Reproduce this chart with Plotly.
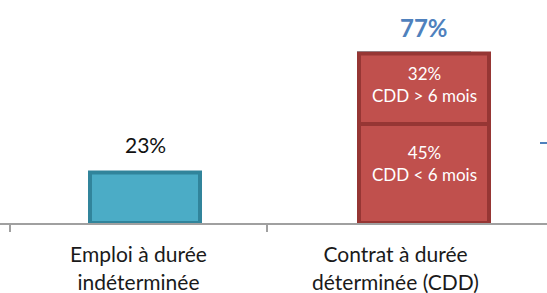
import plotly.graph_objects as go

categories = ["Emploi à durée<br>indéterminée", "Contrat à durée<br>déterminée (CDD)"]
total_values = [23, 77]
cdd_long = 32     # CDD > 6 mois
cdd_short = 45    # CDD < 6 mois
total_labels = ["23%", "77%"]
seg_label_short = "45%<br>CDD < 6 mois"
seg_label_long = "32%<br>CDD > 6 mois"

TEAL = "#4BACC6"
TEAL_DARK = "#31849B"
RED = "#C0504D"
RED_DARK = "#963634"
BLUE = "#4F81BD"

W = 547
H = 293
CAT_PX = 257.0
C0 = 138.5
x_range = [-C0 / CAT_PX, (W - C0) / CAT_PX]

teal_width = 110 / CAT_PX
teal_offsets = [(90 - 138.5) / CAT_PX, (359 - 395.5) / CAT_PX]
red_width = 130 / CAT_PX
red_offset = (359 - 395.5) / CAT_PX
red_center = 1 + red_offset + red_width / 2

fig = go.Figure()
fig.add_trace(go.Bar(
    x=categories, y=total_values,
    width=teal_width, offset=teal_offsets,
    marker=dict(color=TEAL, line=dict(color=TEAL_DARK, width=4)),
    hoverinfo="skip", showlegend=False,
))
fig.add_trace(go.Bar(
    x=[categories[1]], y=[cdd_short],
    width=red_width, offset=red_offset,
    marker=dict(color=RED, line=dict(color=RED_DARK, width=4)),
    hoverinfo="skip", showlegend=False,
))
fig.add_trace(go.Bar(
    x=[categories[1]], y=[cdd_long], base=[cdd_short],
    width=red_width, offset=red_offset,
    marker=dict(color=RED, line=dict(color=RED_DARK, width=4)),
    hoverinfo="skip", showlegend=False,
))

seg_font = dict(color="white", size=17, family="Lato")
fig.add_annotation(x=red_center, y=cdd_short / 2, text=seg_label_short, showarrow=False,
                   yshift=10, font=seg_font)
fig.add_annotation(x=red_center, y=cdd_short + cdd_long / 2, text=seg_label_long, showarrow=False,
                   yshift=4, font=seg_font)

# total labels
fig.add_annotation(x=0 + teal_offsets[0] + teal_width / 2, y=total_values[0],
                   text=total_labels[0], showarrow=False, yanchor="bottom", yshift=13,
                   font=dict(size=21, color="#111111", family="Lato"))
fig.add_annotation(x=red_center, y=total_values[1],
                   text=total_labels[1], showarrow=False, yanchor="bottom", yshift=10,
                   font=dict(size=24, color=BLUE, family="Lato", weight="bold"))

# category boundary ticks
for xb in [-0.5, 0.5]:
    fig.add_shape(type="line", xref="x", yref="paper", x0=xb, x1=xb, y0=0, y1=-9 / 223,
                  line=dict(color="#A0A0A0", width=2))

# small blue fragment at right edge
fig.add_shape(type="line", xref="paper", yref="paper", x0=540 / W, x1=1.0,
              y0=(223 - 143) / 223, y1=(223 - 143) / 223,
              line=dict(color=BLUE, width=2))

fig.update_layout(
    width=W, height=H,
    margin=dict(l=0, r=0, t=0, b=70, autoexpand=False),
    barmode="overlay",
    plot_bgcolor="white", paper_bgcolor="white",
    font=dict(family="Lato"),
    xaxis=dict(type="category", range=x_range, showgrid=False, ticks="",
               showline=True, linecolor="#A0A0A0", linewidth=2, automargin=False,
               tickfont=dict(size=21, color="#1a1a1a", family="Lato"),
               ticklabelstandoff=12),
    yaxis=dict(range=[0, 223 / 2.2], visible=False, showgrid=False, zeroline=False,
               automargin=False),
)

fig.write_html("out.html", config={"displayModeBar": False},
               post_script="document.body.style.margin='0px';")
